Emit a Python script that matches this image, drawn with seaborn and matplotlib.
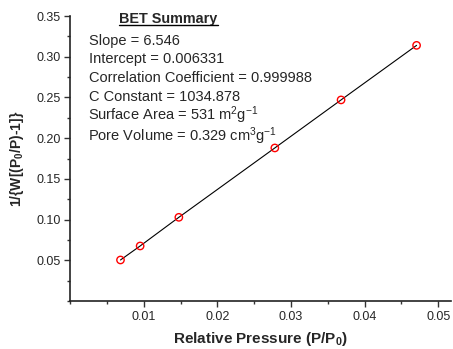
import matplotlib
matplotlib.use("Agg")
import matplotlib.pyplot as plt
import seaborn as sns
import pandas as pd
from matplotlib.ticker import MultipleLocator
from matplotlib.lines import Line2D

# Data
rel_pressure = [0.00683, 0.00950, 0.01476, 0.02780, 0.03680, 0.04706]
bet_value = [0.0504, 0.0676, 0.1028, 0.1880, 0.2470, 0.3140]
x_ticks = [0.01, 0.02, 0.03, 0.04, 0.05]
x_ticklabels = ["0.01", "0.02", "0.03", "0.04", "0.05"]
y_ticks = [0.05, 0.10, 0.15, 0.20, 0.25, 0.30, 0.35]
y_ticklabels = ["0.05", "0.10", "0.15", "0.20", "0.25", "0.30", "0.35"]
summary_title = "BET Summary"
summary_lines = [
    "Slope = 6.546",
    "Intercept = 0.006331",
    "Correlation Coefficient = 0.999988",
    "C Constant = 1034.878",
    "Surface Area = 531 m$^{2}$g$^{-1}$",
    "Pore Volume = 0.329 cm$^{3}$g$^{-1}$",
]

sns.set_style("ticks")
plt.rcParams['font.family'] = ['Liberation Sans', 'DejaVu Sans']
plt.rcParams['mathtext.fontset'] = 'custom'
plt.rcParams['mathtext.rm'] = 'Liberation Sans'
plt.rcParams['mathtext.it'] = 'Liberation Sans'
plt.rcParams['mathtext.bf'] = 'Liberation Sans:bold'

df = pd.DataFrame({"x": rel_pressure, "y": bet_value})

fig = plt.figure(figsize=(4.53, 3.49), dpi=100)
ax = fig.add_axes([0.155, 0.1375, 0.84, 0.8165])

sns.lineplot(data=df, x="x", y="y", ax=ax, color="black", linewidth=0.8)
sns.scatterplot(data=df, x="x", y="y", ax=ax, marker="o", s=28,
                facecolor="none", edgecolor="red", linewidth=1.0, zorder=3)

ax.set_xlim(0, 0.0517)
ax.set_ylim(0, 0.35)
ax.xaxis.set_minor_locator(MultipleLocator(0.005))
ax.yaxis.set_minor_locator(MultipleLocator(0.025))
ax.set_xticks(x_ticks)
ax.set_yticks(y_ticks)
ax.set_xticklabels(x_ticklabels)
ax.set_yticklabels(y_ticklabels)
ax.tick_params(axis="both", which="major", direction="out", length=4, width=1,
               labelsize=9, color="#333333", pad=3)
ax.tick_params(axis="both", which="minor", direction="out", length=2.5, width=1,
               color="#333333")
sns.despine(ax=ax)
for s in ["left", "bottom"]:
    ax.spines[s].set_linewidth(1.2)
    ax.spines[s].set_color("#222222")

ax.set_xlabel("Relative Pressure (P/P$_{\\mathbf{0}}$)", fontsize=11,
              fontweight="bold", labelpad=5)
ax.set_ylabel("1/{W[(P$_{\\mathbf{0}}$/P)-1]}", fontsize=10,
              fontweight="bold", labelpad=7)

t = ax.text(0.129, 0.991, summary_title, transform=ax.transAxes,
            fontsize=10.4, fontweight="bold", ha="left", va="center")
for i, line in enumerate(summary_lines):
    xoff = -0.004 if "$" in line else 0.0
    extra = 0.009 if i == len(summary_lines) - 1 else 0.0
    ax.text(0.050 + xoff, 0.913 - i * 0.0652 - extra, line,
            transform=ax.transAxes, fontsize=10.5, ha="left", va="center")

fig.canvas.draw()
bb = t.get_window_extent().transformed(fig.transFigure.inverted())
fig.add_artist(Line2D([bb.x0, bb.x1], [bb.y0 + 0.001, bb.y0 + 0.001],
                      transform=fig.transFigure, color="black", linewidth=1.0))

fig.savefig("out.png", dpi=100)
